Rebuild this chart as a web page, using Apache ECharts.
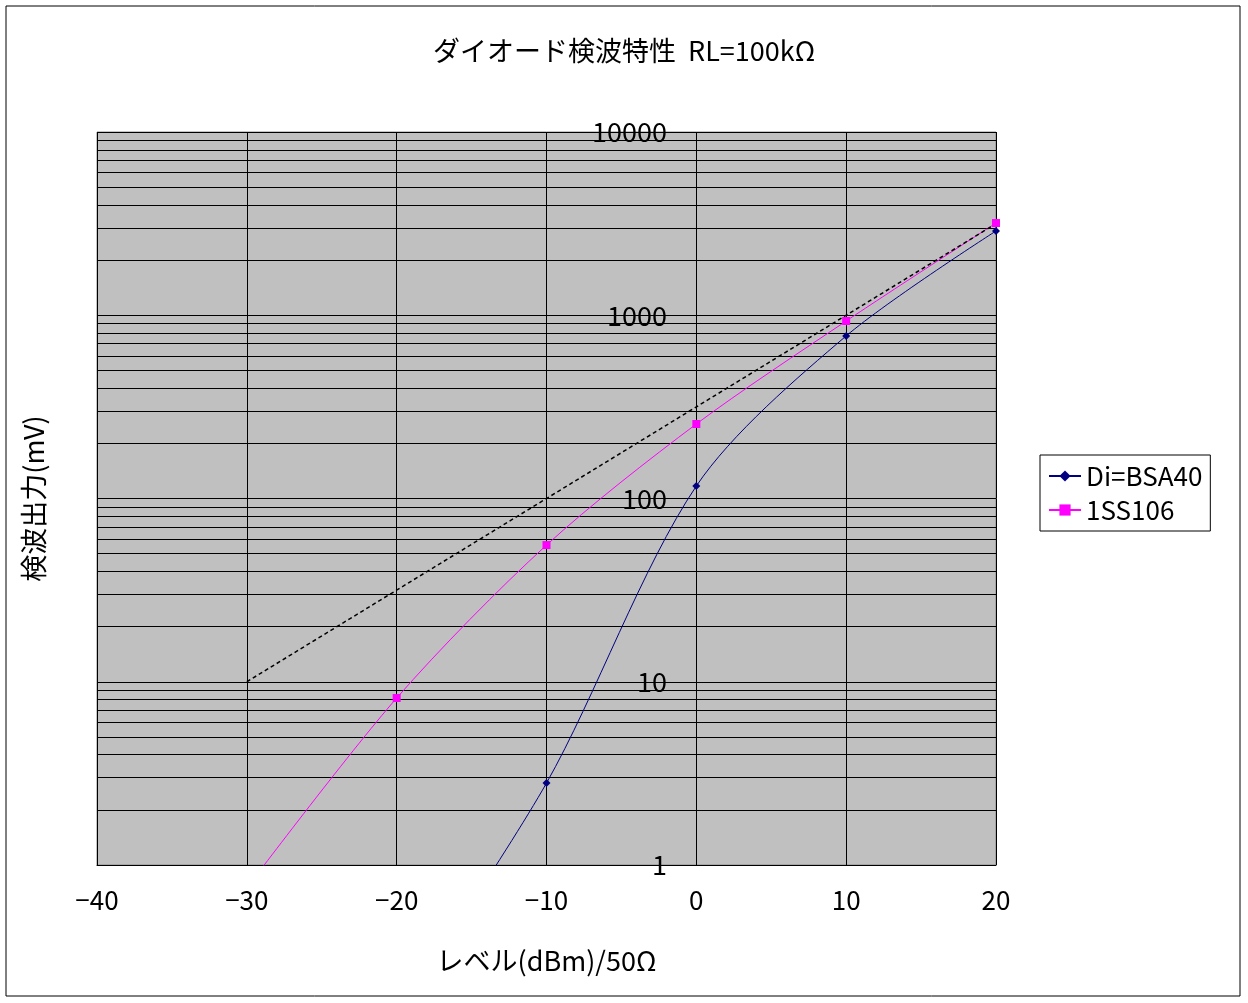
<!DOCTYPE html><html><head><meta charset="utf-8"><script src="https://cdn.jsdelivr.net/npm/echarts@6/dist/echarts.min.js"></script></head><body style="margin:0;background:#fff"><div id="c" style="width:1248px;height:1003px"></div><script>
const bsa40 = [[-20,0.15],[-10,2.8],[0,117],[10,771],[20,2884]];
const ss106 = [[-30,0.75],[-20,8.15],[-10,55.7],[0,255],[10,930],[20,3186]];
const ideal = [[-30,10],[20,3162]];
const f='"Noto Sans CJK JP"';
const ch=echarts.init(document.getElementById('c'));
ch.setOption({
 animation:false,
 title:{text:'ダイオード検波特性  RL=100kΩ',left:'center',top:32,textStyle:{fontFamily:f,fontSize:27,fontWeight:'normal',color:'#000'}},
 graphic:[{type:'rect',shape:{x:6,y:6,width:1234,height:990},style:{fill:'none',stroke:'#000',lineWidth:1}}],
 grid:{left:97,right:252,top:132,bottom:138,containLabel:false,outerBoundsMode:'none',show:true,backgroundColor:'#c0c0c0',borderColor:'#888',borderWidth:1},
 legend:{orient:'vertical',left:1040,top:455,itemGap:8,backgroundColor:'#fff',borderColor:'#000',borderWidth:1,padding:[8,8,8,8],itemWidth:32,
  textStyle:{fontFamily:f,fontSize:26,color:'#000'},data:['Di=BSA40','1SS106']},
 xAxis:{type:'value',min:-40,max:20,interval:10,name:'レベル(dBm)/50Ω',nameLocation:'middle',nameGap:82,
  nameTextStyle:{fontFamily:f,fontSize:27,color:'#000'},
  axisLine:{onZero:false,lineStyle:{color:'#000'}},axisTick:{show:false},
  axisLabel:{fontFamily:f,fontSize:26,color:'#000',margin:22,formatter:v=>v<0?'−'+(-v):''+v},
  splitLine:{lineStyle:{color:'#000',width:1}}},
 yAxis:{type:'log',min:1,max:10000,logBase:10,name:'検波出力(mV)',nameLocation:'middle',nameGap:50,
  nameTextStyle:{fontFamily:f,fontSize:27,color:'#000'},
  axisLine:{show:false,onZero:false},axisTick:{show:false},
  axisLabel:{inside:true,align:'right',margin:570,fontFamily:f,fontSize:27,color:'#000',verticalAlign:'middle',formatter:v=>String(v)},
  splitLine:{lineStyle:{color:'#000',width:1}},
  minorTick:{show:false,splitNumber:9},minorSplitLine:{show:true,lineStyle:{color:'#000',width:1}}},
 series:[
  {name:'Di=BSA40',type:'line',smooth:0.3,data:bsa40,symbol:'diamond',symbolSize:8,itemStyle:{color:'#000080'},lineStyle:{color:'#000080',width:1}},
  {name:'1SS106',type:'line',smooth:0.3,data:ss106,symbol:'rect',symbolSize:8,itemStyle:{color:'#ff00ff'},lineStyle:{color:'#ff00ff',width:1}},
  {name:'ideal',type:'line',data:ideal,symbol:'none',lineStyle:{color:'#000',width:1.5,type:[4,3]}}
 ]});
</script></body></html>
